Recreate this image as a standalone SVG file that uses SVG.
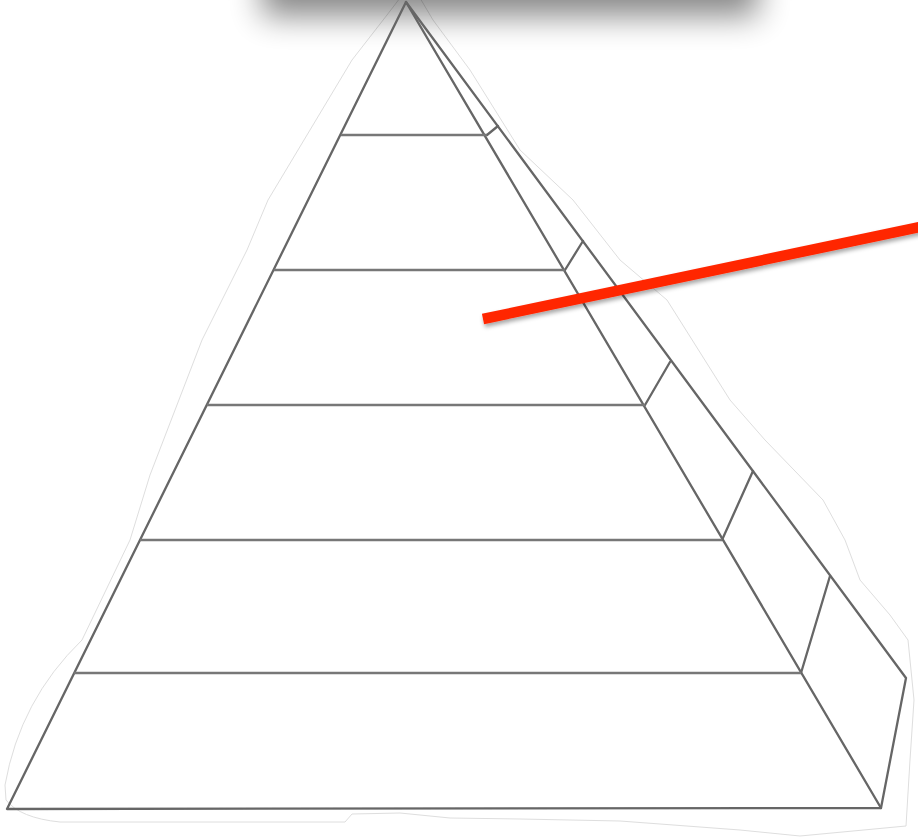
<svg xmlns="http://www.w3.org/2000/svg" width="918" height="839" viewBox="0 0 918 839">
  <defs>
    <filter id="topShadow" x="-20%" y="-100%" width="140%" height="300%">
      <feGaussianBlur stdDeviation="16"/>
    </filter>
    <filter id="soft" x="-5%" y="-5%" width="110%" height="110%">
      <feGaussianBlur stdDeviation="0.5"/>
    </filter>
    <filter id="redShadow" x="-10%" y="-50%" width="120%" height="200%">
      <feDropShadow dx="1" dy="3" stdDeviation="2" flood-color="#000" flood-opacity="0.35"/>
    </filter>
  </defs>
  <style>
    .edge { stroke: #666; stroke-width: 2.3; fill: none; stroke-linecap: round; stroke-linejoin: round; }
    .level { stroke: #777; stroke-width: 2.5; fill: none; }
    .halo { fill: #fff; stroke: #dedede; stroke-width: 1; }
    .pointer { stroke: #ff2600; stroke-width: 10.5; fill: none; }
  </style>
  <rect width="918" height="839" fill="#fff"/>

  <g id="halo">
    <path class="halo" d="M 420 -2 L 433 20 L 470 70 L 520 150 L 573 200 L 620 260 L 667 300 L 730 400 L 765 440 L 823 500 L 845 540 L 860 580 L 890 615 L 908 640 L 914 700 L 910 760 L 906 826 L 800 836 L 740 830 L 620 821 L 520 819 L 450 818 L 400 813 L 352 814 L 345 822 L 300 822 L 60 822 Q 20 818 6 800 L 5 785 Q 20 700 82 640 L 130 540 L 150 475 L 202 340 L 247 250 L 268 200 L 352 60 L 387 15 L 400 -2 Z"/>
  </g>

  <g id="top-shadow">
    <rect x="262" y="-80" width="496" height="96" fill="#000" opacity="0.47" filter="url(#topShadow)"/>
  </g>

  <g id="pyramid" filter="url(#soft)">
    <g id="front-face">
      <polygon class="edge" points="406,2 7,809 881,808"/>
    </g>
    <g id="side-face">
      <polyline class="edge" points="406,2 906,678 881,808"/>
      <line class="edge" x1="487" y1="135" x2="498" y2="126"/>
      <line class="edge" x1="565" y1="270" x2="583" y2="241"/>
      <line class="edge" x1="645" y1="405" x2="670" y2="362"/>
      <line class="edge" x1="722" y1="540" x2="753" y2="471"/>
      <line class="edge" x1="801" y1="673" x2="830" y2="576"/>
    </g>
    <g id="levels">
      <line class="level" x1="341" y1="135" x2="487" y2="135"/>
      <line class="level" x1="274" y1="270" x2="565" y2="270"/>
      <line class="level" x1="207" y1="405" x2="645" y2="405"/>
      <line class="level" x1="140" y1="540" x2="722" y2="540"/>
      <line class="level" x1="74" y1="673" x2="801" y2="673"/>
    </g>
  </g>

  <g id="connectors">
    <line class="pointer" x1="483" y1="319" x2="925" y2="226" filter="url(#redShadow)"/>
  </g>
</svg>
